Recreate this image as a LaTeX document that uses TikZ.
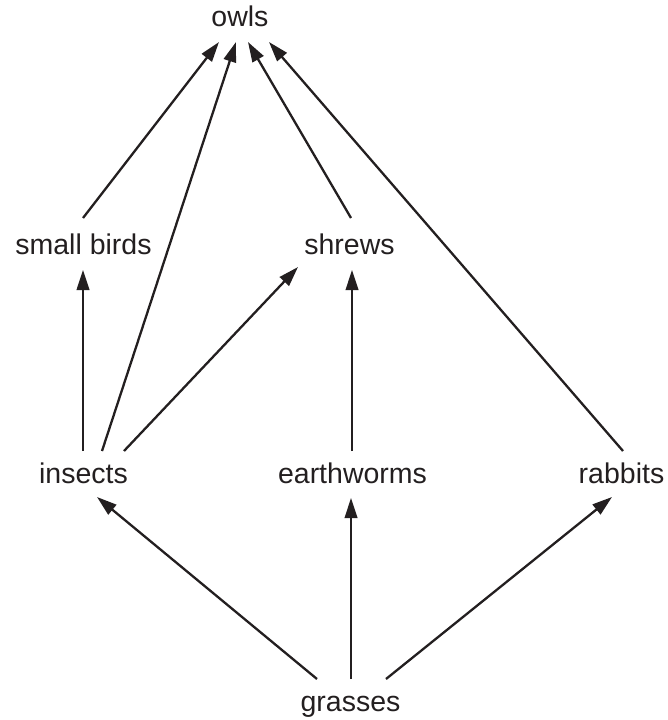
\documentclass[tikz,border=0pt]{standalone}
\usepackage{fontspec}
\setmainfont{Liberation Sans}
\usetikzlibrary{arrows.meta,calc}
\definecolor{ink}{HTML}{231F20}
\begin{document}
\begin{tikzpicture}[x=1pt,y=-1pt,
  lbl/.style={anchor=base,inner sep=0pt,text=ink,font=\fontsize{28.5}{34}\selectfont},
  arr/.style={draw=ink,line width=2.3pt,-{Triangle[length=20pt,width=12.5pt]}}]
\useasboundingbox (0,0) rectangle (668,720);
\node[lbl] (owls) at (240,27) {owls};
\node[lbl] (birds) at (83.5,254) {small birds};
\node[lbl] (shrews) at (349.5,254) {shrews};
\node[lbl] (insects) at (83.5,483) {insects};
\node[lbl] (worms) at (352.5,483) {earthworms};
\node[lbl] (rabbits) at (621.5,483) {rabbits};
\node[lbl] (grasses) at (350.5,711) {grasses};
% to owls
\draw[arr] ($(birds.base)+(-0.5,-36)$) -- ($(owls.base)+(-21,15)$);
\draw[arr] ($(insects.base)+(18.5,-32)$) -- ($(owls.base)+(-4,15)$);
\draw[arr] ($(shrews.base)+(1.5,-36)$) -- ($(owls.base)+(8,15)$);
\draw[arr] ($(rabbits.base)+(1.5,-32)$) -- ($(owls.base)+(29,15)$);
% middle row
\draw[arr] ($(insects.base)+(-0.5,-32)$) -- ($(birds.base)+(-0.5,16)$);
\draw[arr] ($(insects.base)+(40.5,-32)$) -- ($(shrews.base)+(-51.5,13)$);
\draw[arr] ($(worms.base)+(-0.5,-32)$) -- ($(shrews.base)+(2.5,16)$);
% from grasses
\draw[arr] ($(grasses.base)+(-33.5,-32)$) -- ($(insects.base)+(13.5,14)$);
\draw[arr] ($(grasses.base)+(0.5,-32)$) -- ($(worms.base)+(-1.5,15)$);
\draw[arr] ($(grasses.base)+(35.5,-32)$) -- ($(rabbits.base)+(-9.5,14)$);
\end{tikzpicture}
\end{document}
